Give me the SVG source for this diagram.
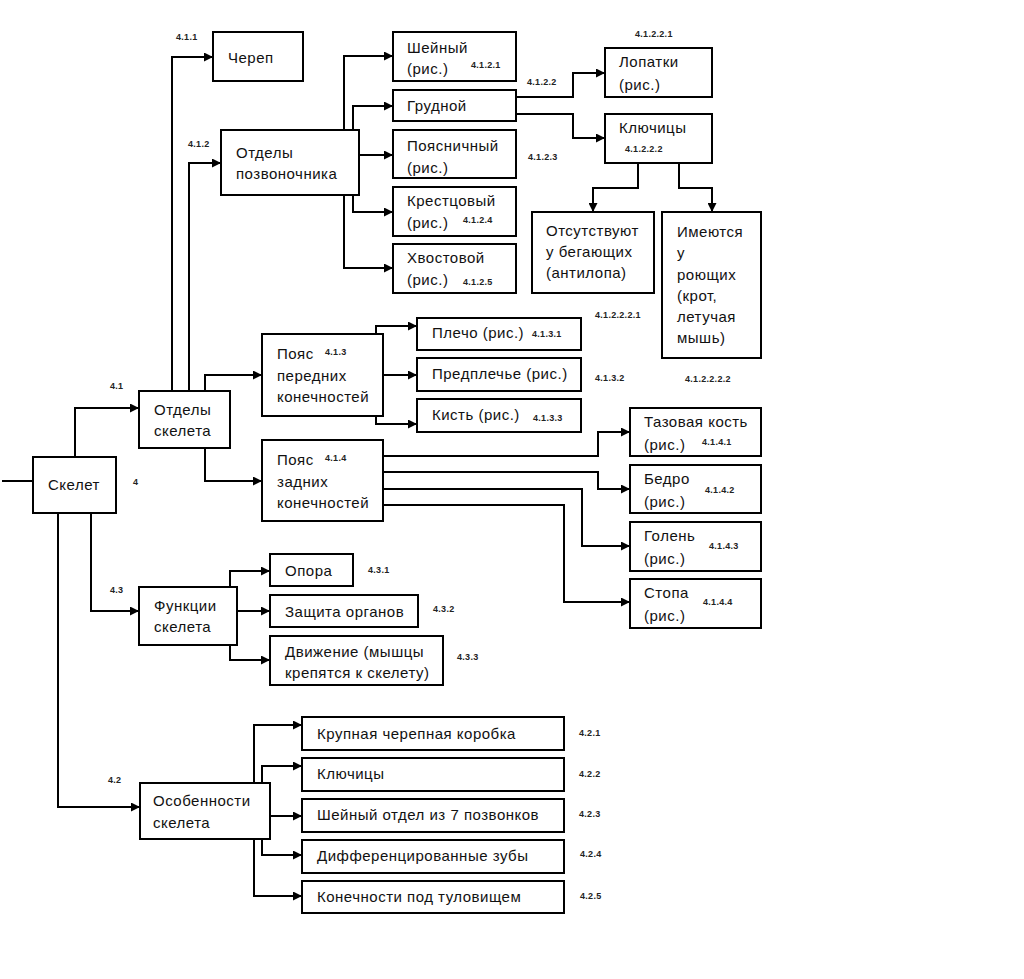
<svg xmlns="http://www.w3.org/2000/svg" width="1024" height="979" viewBox="0 0 1024 979">
<style>
.b{fill:#fff;stroke:#000;stroke-width:2}
.t{font-family:"Liberation Sans",Arial,sans-serif;font-size:15px;letter-spacing:0.5px;fill:#111}
.n{font-family:"Liberation Sans",Arial,sans-serif;font-size:9px;letter-spacing:0.3px;font-weight:bold;fill:#222}
.c path{fill:none;stroke:#000;stroke-width:2}
</style>
<defs>
<marker id="a" viewBox="0 0 10 10" refX="10" refY="5" markerWidth="9" markerHeight="9" markerUnits="userSpaceOnUse" orient="auto">
<path d="M0,0 L10,5 L0,10 z" fill="#000"/>
</marker>
</defs>
<rect width="1024" height="979" fill="#fff"/>
<g class="c">
<path d="M2,481 H33"/>
<path d="M75,457 V408 H139" marker-end="url(#a)"/>
<path d="M91,513 V611 H139" marker-end="url(#a)"/>
<path d="M58,513 V807 H140" marker-end="url(#a)"/>
<path d="M172,391 V57 H213" marker-end="url(#a)"/>
<path d="M189,391 V163 H221" marker-end="url(#a)"/>
<path d="M205,391 V375 H262" marker-end="url(#a)"/>
<path d="M205,448 V481 H262" marker-end="url(#a)"/>
<path d="M344,130 V56 H393" marker-end="url(#a)"/>
<path d="M353,130 V106 H393" marker-end="url(#a)"/>
<path d="M359,155 H393" marker-end="url(#a)"/>
<path d="M353,195 V212 H393" marker-end="url(#a)"/>
<path d="M344,195 V268 H393" marker-end="url(#a)"/>
<path d="M516,97 H573 V73 H605" marker-end="url(#a)"/>
<path d="M516,114 H573 V138 H605" marker-end="url(#a)"/>
<path d="M638,163 V188 H593 V212" marker-end="url(#a)"/>
<path d="M679,163 V188 H712 V212" marker-end="url(#a)"/>
<path d="M376,334 V326 H417" marker-end="url(#a)"/>
<path d="M383,375 H417" marker-end="url(#a)"/>
<path d="M376,416 V424 H417" marker-end="url(#a)"/>
<path d="M383,456 H598 V432 H630" marker-end="url(#a)"/>
<path d="M383,472 H598 V489 H630" marker-end="url(#a)"/>
<path d="M383,489 H582 V546 H630" marker-end="url(#a)"/>
<path d="M383,505 H564 V602 H630" marker-end="url(#a)"/>
<path d="M230,587 V571 H270" marker-end="url(#a)"/>
<path d="M237,611 H270" marker-end="url(#a)"/>
<path d="M230,645 V660 H270" marker-end="url(#a)"/>
<path d="M254,783 V725 H302" marker-end="url(#a)"/>
<path d="M262,783 V766 H302" marker-end="url(#a)"/>
<path d="M270,816 H302" marker-end="url(#a)"/>
<path d="M262,839 V855 H302" marker-end="url(#a)"/>
<path d="M254,839 V896 H302" marker-end="url(#a)"/>
</g>
<g id="n4"><rect class="b" x="33" y="457" width="83" height="56"/><text class="t" x="48" y="490">Скелет</text><text class="n" x="133" y="485">4</text></g>
<g id="n41"><rect class="b" x="139" y="391" width="91" height="57"/><text class="t" x="154" y="415">Отделы</text><text class="t" x="154" y="436">скелета</text><text class="n" x="110" y="389">4.1</text></g>
<g id="n411"><rect class="b" x="213" y="32" width="90" height="49"/><text class="t" x="228" y="63">Череп</text><text class="n" x="176" y="40">4.1.1</text></g>
<g id="n412"><rect class="b" x="221" y="130" width="138" height="65"/><text class="t" x="236" y="158">Отделы</text><text class="t" x="236" y="179">позвоночника</text><text class="n" x="188" y="147">4.1.2</text></g>
<g id="n4121"><rect class="b" x="393" y="32" width="123" height="49"/><text class="t" x="407" y="53">Шейный</text><text class="t" x="407" y="74">(рис.)</text><text class="n" x="471" y="68">4.1.2.1</text></g>
<g id="n4122"><rect class="b" x="393" y="90" width="123" height="31"/><text class="t" x="407" y="111">Грудной</text><text class="n" x="527" y="85">4.1.2.2</text></g>
<g id="n4123"><rect class="b" x="393" y="130" width="123" height="48"/><text class="t" x="407" y="151">Поясничный</text><text class="t" x="407" y="173">(рис.)</text><text class="n" x="528" y="160">4.1.2.3</text></g>
<g id="n4124"><rect class="b" x="393" y="187" width="123" height="49"/><text class="t" x="407" y="206">Крестцовый</text><text class="t" x="407" y="228">(рис.)</text><text class="n" x="463" y="223">4.1.2.4</text></g>
<g id="n4125"><rect class="b" x="393" y="244" width="123" height="49"/><text class="t" x="407" y="263">Хвостовой</text><text class="t" x="407" y="285">(рис.)</text><text class="n" x="463" y="285">4.1.2.5</text></g>
<g id="n41221"><rect class="b" x="605" y="48" width="107" height="49"/><text class="t" x="619" y="67">Лопатки</text><text class="t" x="619" y="90">(рис.)</text><text class="n" x="635" y="37">4.1.2.2.1</text></g>
<g id="n41222"><rect class="b" x="605" y="114" width="107" height="49"/><text class="t" x="619" y="133">Ключицы</text><text class="n" x="625" y="152">4.1.2.2.2</text></g>
<g id="n412221"><rect class="b" x="532" y="212" width="122" height="81"/><text class="t" x="546" y="236">Отсутствуют</text><text class="t" x="546" y="257">у бегающих</text><text class="t" x="546" y="278">(антилопа)</text><text class="n" x="595" y="318">4.1.2.2.2.1</text></g>
<g id="n412222"><rect class="b" x="662" y="212" width="99" height="146"/><text class="t" x="677" y="237">Имеются</text><text class="t" x="677" y="258">у</text><text class="t" x="677" y="280">роющих</text><text class="t" x="677" y="301">(крот,</text><text class="t" x="677" y="322">летучая</text><text class="t" x="677" y="343">мышь)</text><text class="n" x="685" y="382">4.1.2.2.2.2</text></g>
<g id="n413"><rect class="b" x="262" y="334" width="121" height="82"/><text class="t" x="277" y="359">Пояс</text><text class="t" x="277" y="381">передних</text><text class="t" x="277" y="402">конечностей</text><text class="n" x="325" y="355">4.1.3</text></g>
<g id="n4131"><rect class="b" x="417" y="318" width="164" height="32"/><text class="t" x="432" y="338">Плечо (рис.)</text><text class="n" x="532" y="337">4.1.3.1</text></g>
<g id="n4132"><rect class="b" x="417" y="358" width="164" height="33"/><text class="t" x="432" y="379">Предплечье (рис.)</text><text class="n" x="595" y="381">4.1.3.2</text></g>
<g id="n4133"><rect class="b" x="417" y="399" width="164" height="33"/><text class="t" x="432" y="420">Кисть (рис.)</text><text class="n" x="533" y="421">4.1.3.3</text></g>
<g id="n414"><rect class="b" x="262" y="440" width="121" height="81"/><text class="t" x="277" y="465">Пояс</text><text class="t" x="277" y="487">задних</text><text class="t" x="277" y="508">конечностей</text><text class="n" x="325" y="461">4.1.4</text></g>
<g id="n4141"><rect class="b" x="630" y="408" width="131" height="48"/><text class="t" x="644" y="427">Тазовая кость</text><text class="t" x="644" y="450">(рис.)</text><text class="n" x="702" y="445">4.1.4.1</text></g>
<g id="n4142"><rect class="b" x="630" y="465" width="131" height="48"/><text class="t" x="644" y="484">Бедро</text><text class="t" x="644" y="507">(рис.)</text><text class="n" x="705" y="493">4.1.4.2</text></g>
<g id="n4143"><rect class="b" x="630" y="522" width="131" height="49"/><text class="t" x="644" y="541">Голень</text><text class="t" x="644" y="564">(рис.)</text><text class="n" x="709" y="549">4.1.4.3</text></g>
<g id="n4144"><rect class="b" x="630" y="579" width="131" height="49"/><text class="t" x="644" y="598">Стопа</text><text class="t" x="644" y="621">(рис.)</text><text class="n" x="703" y="605">4.1.4.4</text></g>
<g id="n43"><rect class="b" x="139" y="587" width="98" height="58"/><text class="t" x="154" y="611">Функции</text><text class="t" x="154" y="632">скелета</text><text class="n" x="110" y="593">4.3</text></g>
<g id="n431"><rect class="b" x="270" y="554" width="83" height="32"/><text class="t" x="285" y="576">Опора</text><text class="n" x="368" y="573">4.3.1</text></g>
<g id="n432"><rect class="b" x="270" y="595" width="148" height="32"/><text class="t" x="285" y="617">Защита органов</text><text class="n" x="433" y="612">4.3.2</text></g>
<g id="n433"><rect class="b" x="270" y="636" width="173" height="49"/><text class="t" x="285" y="657">Движение (мышцы</text><text class="t" x="285" y="678">крепятся к скелету)</text><text class="n" x="457" y="660">4.3.3</text></g>
<g id="n42"><rect class="b" x="140" y="783" width="130" height="56"/><text class="t" x="153" y="806">Особенности</text><text class="t" x="153" y="828">скелета</text><text class="n" x="108" y="783">4.2</text></g>
<g id="n421"><rect class="b" x="302" y="717" width="262" height="33"/><text class="t" x="317" y="739">Крупная черепная коробка</text><text class="n" x="579" y="736">4.2.1</text></g>
<g id="n422"><rect class="b" x="302" y="758" width="262" height="33"/><text class="t" x="317" y="779">Ключицы</text><text class="n" x="579" y="777">4.2.2</text></g>
<g id="n423"><rect class="b" x="302" y="799" width="262" height="33"/><text class="t" x="317" y="820">Шейный отдел из 7 позвонков</text><text class="n" x="579" y="817">4.2.3</text></g>
<g id="n424"><rect class="b" x="302" y="840" width="262" height="33"/><text class="t" x="317" y="861">Дифференцированные зубы</text><text class="n" x="580" y="857">4.2.4</text></g>
<g id="n425"><rect class="b" x="302" y="881" width="262" height="32"/><text class="t" x="317" y="902">Конечности под туловищем</text><text class="n" x="580" y="899">4.2.5</text></g>
</svg>
